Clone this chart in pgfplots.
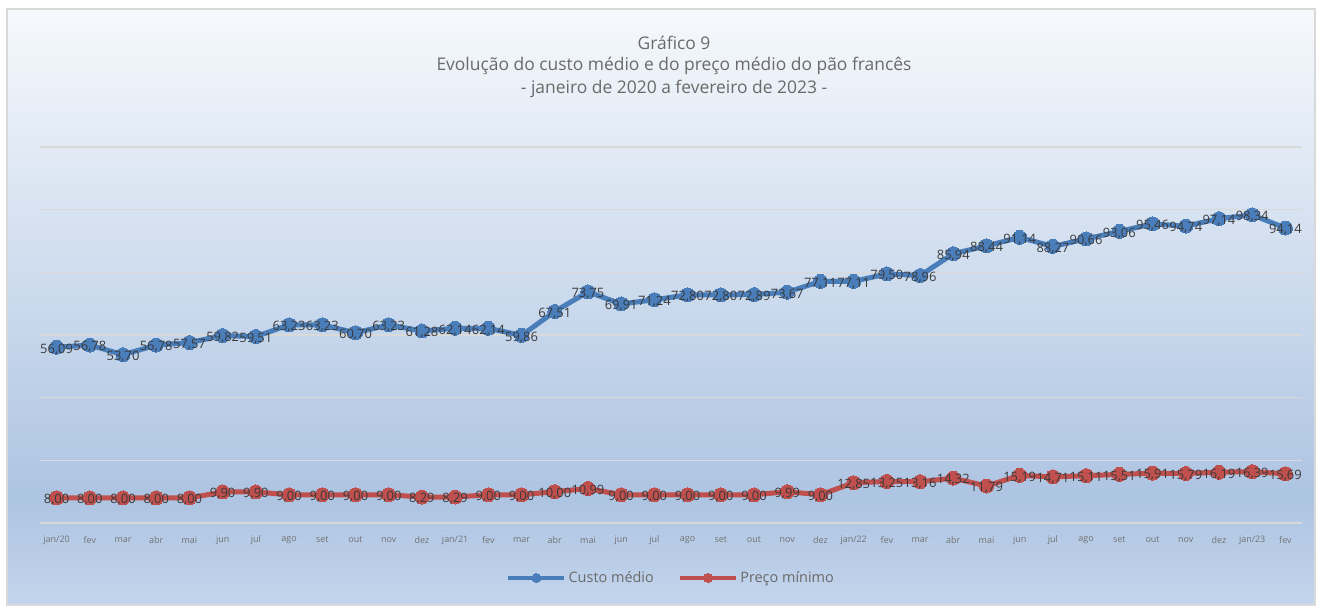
\documentclass[border=0pt]{standalone}
\usepackage{pgfplots}
\pgfplotsset{compat=1.18}
\usepackage{fontspec}
\setmainfont{Open Sans}
\definecolor{cblue}{HTML}{4A7EBB}
\definecolor{cred}{HTML}{C0504D}
\definecolor{lbl}{HTML}{595959}
\definecolor{dlbl}{HTML}{3A3A3A}
\definecolor{gridc}{HTML}{D9D9D9}
\definecolor{bgtop}{HTML}{F6F9FC}
\definecolor{bgmid}{HTML}{ADC4E2}
\definecolor{bgbot}{HTML}{C4D5EC}
\pgfdeclareverticalshading{bgshade}{100bp}{color(0bp)=(bgbot); color(25bp)=(bgbot); color(34bp)=(bgmid); color(75bp)=(bgtop); color(100bp)=(bgtop)}

\pgfplotstableread{
x custo preco
1 56.09 8.00
2 56.78 8.00
3 53.70 8.00
4 56.78 8.00
5 57.57 8.00
6 59.82 9.90
7 59.51 9.90
8 63.23 9.00
9 63.23 9.00
10 60.70 9.00
11 63.23 9.00
12 61.28 8.29
13 62.14 8.29
14 62.14 9.00
15 59.86 9.00
16 67.51 10.00
17 73.75 10.99
18 69.91 9.00
19 71.24 9.00
20 72.80 9.00
21 72.80 9.00
22 72.89 9.00
23 73.67 9.99
24 77.11 9.00
25 77.11 12.85
26 79.50 13.25
27 78.96 13.16
28 85.94 14.32
29 88.44 11.79
30 91.14 15.19
31 88.27 14.71
32 90.66 15.11
33 93.06 15.51
34 95.46 15.91
35 94.74 15.79
36 97.14 16.19
37 98.34 16.39
38 94.14 15.69
}\datatable

\begin{document}
\begin{tikzpicture}[x=1bp,y=1bp]
\useasboundingbox (0,0) rectangle (1320,608);
\fill[white] (0,0) rectangle (1320,608);
\shade[shading=bgshade, draw=gridc, line width=1.5bp] (7,3) rectangle (1315,599);
\node[font=\fontsize{17.5}{20}\selectfont, text=lbl!90] at (674,565) {Gráfico 9};
\node[font=\fontsize{17.5}{20}\selectfont, text=lbl!90] at (674,542) {Evolução do custo médio e do preço médio do pão francês};
\node[font=\fontsize{17.5}{20}\selectfont, text=lbl!90] at (674,519) {- janeiro de 2020 a fevereiro de 2023 -};
\begin{axis}[
  at={(40bp,85bp)}, anchor=south west, scale only axis,
  width=1262bp, height=376bp,
  xmin=0.5, xmax=38.5, ymin=0, ymax=120,
  ytick={0,20,...,120}, yticklabels={},
  ymajorgrids, grid style={gridc, line width=1.5bp},
  axis line style={draw=none},
  major tick length=0pt,
  xtick={1,...,38},
  xticklabels={jan/20,fev,mar,abr,mai,jun,jul,ago,set,out,nov,dez,jan/21,fev,mar,abr,mai,jun,jul,ago,set,out,nov,dez,jan/22,fev,mar,abr,mai,jun,jul,ago,set,out,nov,dez,jan/23,fev},
  xticklabel style={anchor=center, yshift=-17bp, font=\fontsize{9}{10}\selectfont, text=lbl!85},
  clip=false,
  legend style={at={(0.500,-0.146)}, anchor=center, draw=none, fill=none, legend columns=2, font=\fontsize{14.5}{18}\selectfont, text=lbl!90, /tikz/every even column/.append style={column sep=22bp}, inner sep=0pt},
  legend cell align=left,
  legend image code/.code={\draw[#1, line width=4.5bp, mark repeat=2, mark phase=2, mark size=4.5bp] plot coordinates {(0bp,0bp) (28bp,0bp) (56bp,0bp)};},
  lab/.style={draw=none, mark=none, forget plot,
    nodes near coords={\pgfmathprintnumber[fixed,fixed zerofill,precision=2,use comma,assume math mode=true]{\pgfplotspointmeta}},
    nodes near coords style={anchor=center, yshift=-2bp, font=\fontsize{13}{15}\selectfont, text=dlbl, inner sep=0pt}},
]
\addplot[cblue, line width=5bp, mark=*, mark size=7bp, mark options={fill=cblue, draw=cblue, line width=0pt}] table[x=x, y=custo] {\datatable};
\addlegendentry{Custo médio}
\addplot[cred, line width=5bp, mark=*, mark size=7bp, mark options={fill=cred, draw=cred, line width=0pt}] table[x=x, y=preco] {\datatable};
\addlegendentry{Preço mínimo}
\addplot[lab] table[x=x, y=custo] {\datatable};
\addplot[lab] table[x=x, y=preco] {\datatable};
\end{axis}
\end{tikzpicture}
\end{document}
